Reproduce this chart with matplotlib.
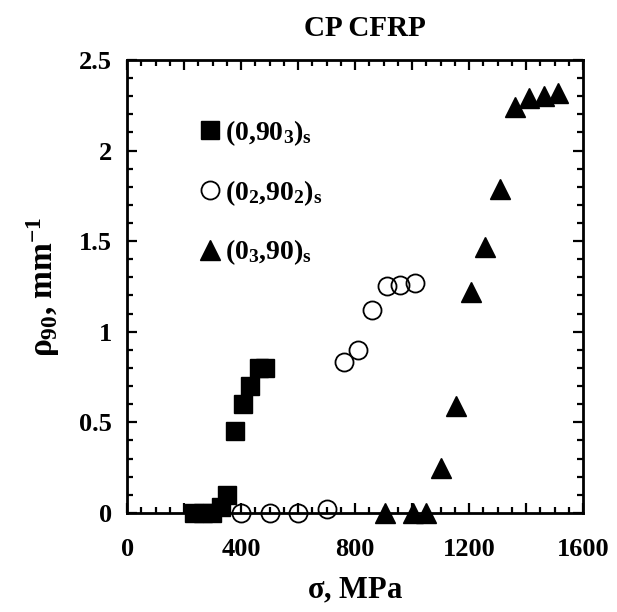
import matplotlib
matplotlib.use("Agg")
import matplotlib.pyplot as plt
from matplotlib.ticker import MultipleLocator, FuncFormatter

plt.rcParams['font.family'] = ['Liberation Serif', 'DejaVu Serif']
plt.rcParams['font.weight'] = 'bold'
plt.rcParams['mathtext.fontset'] = 'custom'
plt.rcParams['mathtext.rm'] = 'Liberation Serif:bold'
plt.rcParams['mathtext.bf'] = 'Liberation Serif:bold'
plt.rcParams['mathtext.it'] = 'Liberation Serif:bold'

# (0,90_3)_s
sq_x = [234, 265, 297, 331, 352, 380, 405, 430, 462, 485]
sq_y = [0, 0, 0, 0.03, 0.10, 0.45, 0.60, 0.70, 0.80, 0.80]
# (0_2,90_2)_s
ci_x = [400, 500, 600, 700, 760, 810, 860, 912, 958, 1010]
ci_y = [0, 0, 0, 0.02, 0.83, 0.90, 1.12, 1.25, 1.26, 1.27]
# (0_3,90)_s
tr_x = [905, 1003, 1050, 1102, 1155, 1208, 1257, 1310, 1362, 1411, 1464, 1513]
tr_y = [0, 0, 0, 0.25, 0.59, 1.22, 1.47, 1.79, 2.24, 2.29, 2.30, 2.32]

labels = [r'$(0{,}90_3)_s$', r'$(0_2{,}90_2)_s$', r'$(0_3{,}90)_s$']
x_ticks = [0, 400, 800, 1200, 1600]
y_ticks = [0, 0.5, 1, 1.5, 2, 2.5]
y_ticklabels = ['0', '0.5', '1', '1.5', '2', '2.5']

fig = plt.figure(figsize=(6.17, 6.12), dpi=100)
ax = fig.add_axes([0.206, 0.162, 0.739, 0.740])

ax.plot(sq_x, sq_y, 's', color='black', markersize=13.5, linestyle='none',
        clip_on=False, zorder=3, label=labels[0])
ax.plot(ci_x, ci_y, 'o', markerfacecolor='none', markeredgecolor='black',
        markeredgewidth=1.3, markersize=13, linestyle='none', clip_on=False,
        zorder=3, label=labels[1])
ax.plot(tr_x, tr_y, '^', color='black', markersize=14, linestyle='none',
        clip_on=False, zorder=3, label=labels[2])

ax.set_xlim(0, 1600)
ax.set_ylim(0, 2.5)
ax.xaxis.set_major_locator(MultipleLocator(200))
ax.xaxis.set_minor_locator(MultipleLocator(50))
ax.yaxis.set_major_locator(MultipleLocator(0.5))
ax.yaxis.set_minor_locator(MultipleLocator(0.1))

def xfmt(v, pos):
    v = int(round(v))
    return str(v) if v in x_ticks else ''
ax.xaxis.set_major_formatter(FuncFormatter(xfmt))
ax.set_yticks(y_ticks)
ax.set_yticklabels(y_ticklabels)

ax.tick_params(which='both', direction='in', top=True, right=True,
               labelsize=19, width=1.6)
ax.tick_params(axis='x', pad=18)
ax.tick_params(axis='y', pad=11)
ax.tick_params(which='major', length=7)
ax.tick_params(which='minor', length=4)
for s in ax.spines.values():
    s.set_linewidth(2)
for lab in ax.get_xticklabels() + ax.get_yticklabels():
    lab.set_fontweight('bold')

ax.set_title('CP CFRP', fontsize=21, fontweight='bold', pad=17, x=0.522)
ax.set_xlabel(r'$\sigma$, MPa', fontsize=22, fontweight='bold', labelpad=11)
ax.set_ylabel(r'$\rho_{90}$, mm$^{-1}$', fontsize=24, fontweight='bold', labelpad=12)

leg = ax.legend(loc='upper left', bbox_to_anchor=(0.12, 0.902), frameon=False,
                fontsize=20, labelspacing=1.08, handletextpad=0.05,
                handlelength=1.0, borderpad=0)

fig.savefig('out.png', dpi=100)
